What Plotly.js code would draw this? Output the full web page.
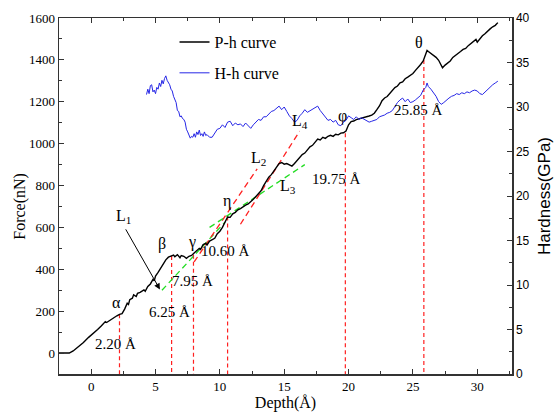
<!DOCTYPE html>
<html>
<head>
<meta charset="utf-8">
<script src="https://cdn.plot.ly/plotly-3.0.1.min.js"></script>
<style>html,body{margin:0;padding:0;background:#fff;}#chart{width:556px;height:412px;}</style>
</head>
<body>
<div id="chart"></div>
<script>
// P-h curve: depth (Å) and force (nN)
const phDepth = [-2.5,-1.7,-1.4,-1.0,-0.6,-0.2,0.2,0.5,0.8,1.0,1.1,1.2,1.4,1.7,2.0,2.2,2.4,2.6,2.8,2.9,3.0,3.2,3.3,3.5,3.6,3.8,4.0,4.1,4.2,4.4,4.6,4.8,4.9,5.0,5.2,5.4,5.6,5.8,6.0,6.2,6.4,6.5,6.7,6.9,7.0,7.2,7.4,7.6,7.8,8.0,8.2,8.4,8.5,8.7,8.9,9.0,9.2,9.4,9.6,9.8,10.0,10.2,10.4,10.6,10.8,11.0,11.2,11.4,11.6,11.8,12.0,12.2,12.4,12.6,12.8,13.0,13.2,13.4,13.6,13.8,14.0,14.2,14.4,14.6,14.8,15.0,15.2,15.4,15.6,15.8,16.0,16.2,16.4,16.6,16.8,17.0,17.2,17.4,17.6,17.8,18.0,18.2,18.4,18.6,18.8,19.0,19.2,19.4,19.6,19.8,20.0,20.2,20.4,20.6,20.8,21.0,21.2,21.4,21.6,21.8,22.0,22.2,22.4,22.6,22.8,23.0,23.2,23.4,23.6,23.8,24.0,24.2,24.4,24.6,24.8,25.0,25.2,25.4,25.6,25.8,26.0,26.1,26.2,26.4,26.6,26.8,27.0,27.2,27.3,27.5,27.7,27.9,28.1,28.3,28.5,28.7,28.9,29.1,29.3,29.5,29.7,29.9,30.0,30.2,30.4,30.6,30.8,31.0,31.2,31.4,31.6];
const phForce = [0,0,10,28,50,75,95,112,130,142,150,146,155,165,178,185,188,210,238,232,255,262,278,270,285,290,296,302,295,318,330,352,345,368,385,405,425,445,458,462,468,460,470,455,466,462,452,462,466,478,490,500,495,518,524,516,535,540,548,570,582,600,625,650,648,665,672,684,690,700,706,712,722,735,748,760,775,800,822,840,852,870,890,905,910,902,905,900,893,905,918,930,948,955,968,985,992,1010,1022,1018,1030,1025,1035,1040,1035,1045,1042,1050,1052,1060,1090,1105,1108,1115,1118,1120,1124,1128,1132,1136,1145,1162,1180,1205,1218,1225,1240,1255,1268,1275,1290,1295,1310,1318,1325,1335,1350,1362,1378,1395,1425,1445,1440,1432,1424,1412,1398,1375,1362,1375,1385,1395,1412,1420,1432,1440,1450,1455,1468,1478,1492,1498,1485,1502,1515,1525,1538,1548,1558,1565,1578];

// H-h curve: depth (Å) and hardness (GPa)
const hhDepth = [4.3,4.4,4.5,4.6,4.7,4.8,4.9,5.0,5.1,5.2,5.3,5.4,5.5,5.6,5.7,5.8,5.9,6.0,6.1,6.2,6.3,6.4,6.5,6.6,6.7,6.8,6.9,7.0,7.1,7.2,7.3,7.4,7.5,7.6,7.7,7.8,7.9,8.0,8.1,8.2,8.3,8.4,8.5,8.6,8.7,8.8,8.9,9.0,9.2,9.4,9.6,9.8,10.0,10.2,10.4,10.6,10.8,11.0,11.2,11.4,11.6,11.8,12.0,12.2,12.4,12.6,12.8,13.0,13.2,13.4,13.6,13.8,14.0,14.2,14.4,14.6,14.8,15.0,15.2,15.4,15.6,15.8,16.0,16.2,16.4,16.6,16.8,17.0,17.2,17.4,17.6,17.8,18.0,18.2,18.4,18.6,18.8,19.0,19.2,19.4,19.6,19.8,20.0,20.2,20.4,20.6,20.8,21.0,21.2,21.4,21.6,21.8,22.0,22.2,22.4,22.6,22.8,23.0,23.2,23.4,23.6,23.8,24.0,24.2,24.4,24.6,24.8,25.0,25.2,25.4,25.6,25.8,26.0,26.1,26.2,26.4,26.6,26.8,27.0,27.2,27.4,27.6,27.8,28.0,28.2,28.4,28.6,28.8,29.0,29.2,29.4,29.6,29.8,30.0,30.2,30.4,30.6,30.8,31.0,31.2,31.4,31.6];
const hhHard = [31.4,32.0,31.5,32.4,32.5,31.7,31.9,31.5,32.2,32.0,32.7,32.3,33.0,32.6,33.2,33.5,33.0,32.8,32.5,32.0,31.8,31.2,30.8,30.5,29.6,29.5,28.9,29.0,28.7,28.6,28.3,27.5,27.2,26.8,26.5,26.7,26.6,27.0,26.6,27.2,26.9,27.4,26.8,27.0,26.7,27.2,26.8,26.9,26.6,26.6,27.0,27.5,27.6,28.0,27.7,28.3,28.4,27.9,28.2,28.0,28.1,27.8,28.2,27.9,27.6,28.0,28.3,28.6,28.5,28.9,28.9,29.2,29.5,29.6,29.9,30.1,29.7,30.0,29.5,29.0,28.7,28.3,28.5,29.0,29.3,29.7,29.4,29.6,29.8,30.0,30.1,29.6,29.2,28.9,28.5,28.6,28.3,28.5,28.0,27.9,28.3,28.5,29.0,28.8,28.6,28.9,28.6,28.8,28.6,28.4,28.3,28.4,28.5,28.6,28.9,29.0,29.1,29.3,29.4,29.6,30.1,30.5,30.8,31.0,30.6,30.9,30.5,30.6,30.8,31.0,31.3,31.9,32.2,32.7,32.3,32.0,31.6,31.2,30.6,30.3,30.5,30.8,31.0,31.2,31.3,31.5,31.4,31.6,31.5,31.7,31.6,31.8,31.9,31.8,31.5,31.4,31.7,32.0,32.3,32.5,32.7,32.9];

// Transition points
const markDepth = [2.20, 6.25, 7.95, 10.60, 19.75, 25.85];
const markForce = [185, 463, 470, 652, 1050, 1400];
const markLabel = ['2.20 Å','6.25 Å','7.95 Å','10.60 Å','19.75 Å','25.85 Å'];
const markLabelX = [1.92, 6.08, 7.87, 10.47, 19.03, 25.4];
const markLabelY = [41, 194, 344, 487, 829, 1163];
const greek = ['α','β','γ','η','φ','θ'];
const greekX = [2.0, 5.52, 7.8, 10.53, 19.55, 25.45];
const greekY = [240, 519, 530, 725, 1131, 1481];

// Fitted lines L1..L4 (endpoints)
const fitNames = ['L1','L2','L3','L4'];
const fitX = [[5.5, 10.4],[8.0, 12.9],[9.2, 16.6],[11.6, 16.2]];
const fitY = [[300, 625],[435, 880],[600, 900],[615, 1060]];
const fitColor = ['#22dd22','#ff2020','#22dd22','#ff2020'];
const fitLabelX = [2.54, 12.99, 15.32, 16.23];
const fitLabelY = [654, 927, 794, 1107];
const arrowFrom = [2.62, 598];
const arrowTo = [5.34, 304];

const xRange = [-2.5, 32.7];
const yRange = [-100, 1600];
const y2Range = [0, 40];

const serif = "'Liberation Serif', 'Times New Roman', serif";
const sans = "'Liberation Sans', Arial, sans-serif";

const traces = [];
// vertical dashed marker lines
markDepth.forEach((d, i) => {
  traces.push({x:[d,d], y:[markForce[i], yRange[0]], mode:'lines', showlegend:false,
    line:{color:'#ff2020', width:1.2, dash:'4px,3px'}, hoverinfo:'skip'});
});
// fit lines
fitX.forEach((fx, i) => {
  traces.push({x:fx, y:fitY[i], mode:'lines', showlegend:false,
    line:{color:fitColor[i], width:1.3, dash:'6px,4px'}, hoverinfo:'skip'});
});
traces.push({x:phDepth, y:phForce, mode:'lines', name:'P-h curve', legendgroup:'a',
  line:{color:'#000000', width:1.4}});
traces.push({x:hhDepth, y:hhHard, mode:'lines', name:'H-h curve', legendgroup:'b', yaxis:'y2',
  line:{color:'#2626e6', width:1}});

const annotations = [];
markLabel.forEach((t, i) => annotations.push({x:markLabelX[i], y:markLabelY[i], text:t, showarrow:false,
  font:{family:serif, size:15, color:'#000'}}));
greek.forEach((t, i) => annotations.push({x:greekX[i], y:greekY[i], text:t, showarrow:false,
  font:{family:serif, size:16, color:'#000'}}));
fitNames.forEach((t, i) => annotations.push({x:fitLabelX[i], y:fitLabelY[i],
  text:t[0] + '<sub>' + t[1] + '</sub>', showarrow:false, font:{family:serif, size:16, color:'#000'}}));
annotations.push({x:arrowTo[0], y:arrowTo[1], ax:arrowFrom[0], ay:arrowFrom[1], axref:'x', ayref:'y',
  text:'', showarrow:true, arrowhead:2, arrowsize:1.2, arrowwidth:1, arrowcolor:'#000'});
// left axis title
annotations.push({xref:'paper', yref:'paper', x:-0.086, y:0.47, xanchor:'center', yanchor:'middle',
  text:'Force(nN)', textangle:-90, showarrow:false, font:{family:serif, size:16, color:'#000'}});

const layout = {
  width:556, height:412,
  margin:{l:59, r:44, t:18, b:38},
  paper_bgcolor:'#fff', plot_bgcolor:'#fff',
  showlegend:true,
  legend:{x:0.255, y:0.98, xanchor:'left', yanchor:'top', bgcolor:'rgba(0,0,0,0)',
    font:{family:serif, size:16, color:'#000'}, traceorder:'grouped', tracegroupgap:7},
  xaxis:{range:xRange, dtick:5, tick0:0, ticks:'inside', ticklen:5, tickwidth:1, tickcolor:'#333',
    minor:{dtick:2.5, ticks:'inside', ticklen:3, tickcolor:'#333'},
    showline:true, linecolor:'#333', linewidth:1.5, mirror:'ticks', showgrid:false, zeroline:false,
    tickfont:{family:serif, size:13, color:'#000'},
    title:{text:'Depth(Å)', font:{family:serif, size:16, color:'#000'}, standoff:3}},
  yaxis:{range:yRange, dtick:200, tick0:0, ticks:'inside', ticklen:5, tickcolor:'#333',
    minor:{dtick:100, ticks:'inside', ticklen:3, tickcolor:'#333'},
    showline:true, linecolor:'#333', linewidth:1.5, showgrid:false, zeroline:false,
    tickfont:{family:serif, size:13, color:'#000'}},
  yaxis2:{range:y2Range, dtick:5, tick0:0, overlaying:'y', side:'right', ticks:'inside', ticklen:5, tickcolor:'#333',
    minor:{dtick:2.5, ticks:'inside', ticklen:3, tickcolor:'#333'},
    showline:true, linecolor:'#333', linewidth:1.5, showgrid:false, zeroline:false,
    tickfont:{family:sans, size:12, color:'#000'},
    title:{text:'Hardness(GPa)', font:{family:sans, size:17, color:'#000'}, standoff:9}},
  annotations:annotations
};

Plotly.newPlot('chart', traces, layout, {staticPlot:true, displayModeBar:false});
</script>
</body>
</html>
